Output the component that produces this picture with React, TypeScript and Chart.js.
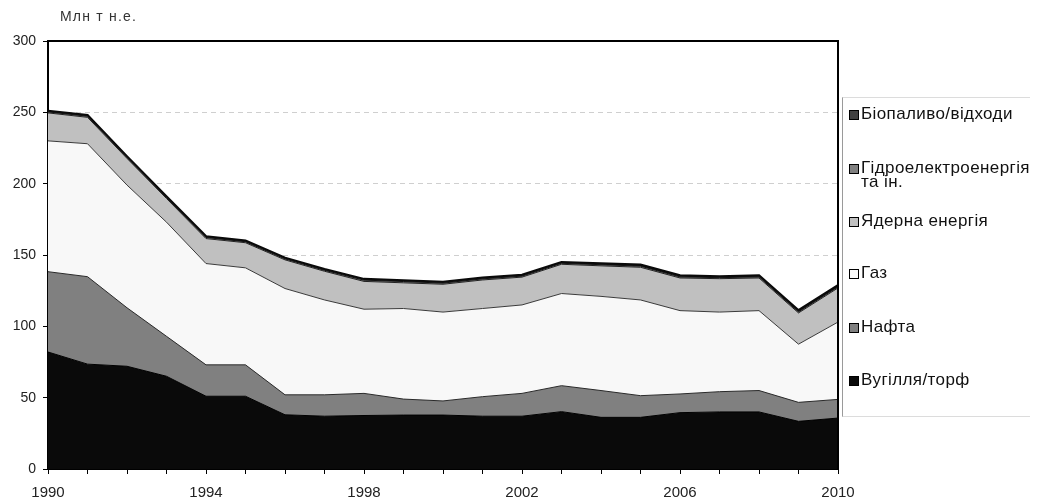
import React, { useEffect, useRef } from 'react';
import { Chart, registerables } from 'chart.js';

Chart.register(...registerables);

const years = ['1990', '1991', '1992', '1993', '1994', '1995', '1996', '1997', '1998', '1999', '2000', '2001', '2002', '2003', '2004', '2005', '2006', '2007', '2008', '2009', '2010'];
const shownYears = ['1990', '1994', '1998', '2002', '2006', '2010'];

const coal = [82, 73.5, 72, 65, 51, 51, 38, 37, 37.5, 37.8, 37.8, 37, 37, 40.2, 36.2, 36.2, 39.5, 40, 40, 33.4, 35.7];
const oil = [56.3, 61.3, 41, 28, 22, 22, 14, 15, 15.5, 11.2, 9.9, 13.7, 16, 18.2, 18.8, 15.2, 13.1, 14.2, 15, 13.3, 13.1];
const gas = [91.7, 93.2, 86, 80, 71, 68, 74.5, 66.5, 59, 63.5, 62.3, 61.8, 62, 64.6, 66, 67.1, 58.4, 55.8, 56, 40.8, 54.2];
const nuclear = [19.6, 18.5, 18.7, 16.6, 17.5, 17.6, 20.1, 20.1, 19.5, 18.0, 19.5, 20.0, 19.5, 20.5, 21.4, 22.9, 22.9, 23.4, 22.9, 21.9, 23.9];
const hydro = [0.7, 0.8, 0.6, 0.7, 0.8, 0.7, 0.7, 0.7, 0.9, 0.9, 0.8, 0.8, 0.7, 0.7, 0.8, 0.8, 0.8, 0.7, 0.8, 0.8, 0.8];
const bio = [0.7, 0.7, 0.7, 0.7, 0.7, 0.7, 0.7, 0.7, 0.7, 0.8, 0.8, 0.8, 0.8, 0.8, 0.9, 0.9, 0.9, 0.9, 1.0, 1.0, 1.0];

const yTickValues = [0, 50, 100, 150, 200, 250, 300];

const seriesNames = ['Вугілля/торф', 'Нафта', 'Газ', 'Ядерна енергія', 'Гідроелектроенергія та ін.', 'Біопаливо/відходи'];
const fills = ['#0a0a0a', '#808080', '#f8f8f8', '#c0c0c0', '#808080', '#404040'];
const borders = ['#000000', '#2a2a2a', '#3a3a3a', '#222222', '#111111', '#0a0a0a'];
const borderWidths = [1, 1, 1, 1, 1, 2.5];

const legendItems = [
  { name: 'Біопаливо/відходи', color: '#404040', lines: ['Біопаливо/відходи'], y: 114 },
  { name: 'Гідроелектроенергія та ін.', color: '#808080', lines: ['Гідроелектроенергія', 'та ін.'], y: 168 },
  { name: 'Ядерна енергія', color: '#c0c0c0', lines: ['Ядерна енергія'], y: 221 },
  { name: 'Газ', color: '#fafafa', lines: ['Газ'], y: 273 },
  { name: 'Нафта', color: '#808080', lines: ['Нафта'], y: 327 },
  { name: 'Вугілля/торф', color: '#0a0a0a', lines: ['Вугілля/торф'], y: 380 },
];

const FONT = "'Liberation Sans', Arial, sans-serif";

const frame = {
  id: 'frame',
  afterDatasetsDraw(chart: any) {
    const { ctx, chartArea } = chart;
    ctx.save();
    ctx.strokeStyle = '#000';
    ctx.lineWidth = 2;
    ctx.beginPath();
    ctx.moveTo(chartArea.left, chartArea.top);
    ctx.lineTo(chartArea.right, chartArea.top);
    ctx.lineTo(chartArea.right, chartArea.bottom);
    ctx.stroke();
    ctx.restore();
  },
};

export default function App() {
  const ref = useRef<HTMLCanvasElement | null>(null);

  useEffect(() => {
    document.body.style.margin = '0';
    const all = [coal, oil, gas, nuclear, hydro, bio];
    const chart = new Chart(ref.current as HTMLCanvasElement, {
      type: 'line',
      data: {
        labels: years,
        datasets: all.map((d, i) => ({
          label: seriesNames[i],
          data: d,
          backgroundColor: fills[i],
          borderColor: borders[i],
          borderWidth: borderWidths[i],
          fill: i === 0 ? 'origin' : '-1',
          pointRadius: 0,
          tension: 0,
        })),
      },
      options: {
        responsive: false,
        animation: false,
        devicePixelRatio: 1,
        layout: { padding: { top: 41, right: 200, left: 0, bottom: 0 } },
        plugins: { legend: { display: false }, tooltip: { enabled: false } },
        scales: {
          x: {
            offset: false,
            grid: { drawOnChartArea: false, drawTicks: true, tickLength: 5, tickColor: '#000' },
            border: { color: '#000', width: 2 },
            ticks: {
              autoSkip: false,
              maxRotation: 0,
              padding: 10,
              color: '#222',
              font: { family: FONT, size: 15 },
              callback: (v: any, i: number) => (shownYears.includes(years[i]) ? years[i] : ''),
            },
            afterFit: (s: any) => { s.height = 28; },
          },
          y: {
            stacked: true,
            min: 0,
            max: 300,
            afterBuildTicks: (s: any) => { s.ticks = yTickValues.map((v) => ({ value: v })); },
            grid: { color: '#cfcfcf', tickLength: 5, tickColor: '#000', lineWidth: 1 },
            border: { color: '#000', width: 2, dash: [5, 4] },
            ticks: { padding: 7, color: '#222', font: { family: FONT, size: 14 } },
            afterFit: (s: any) => { s.width = 48; },
          },
        },
      },
      plugins: [frame],
    });
    return () => chart.destroy();
  }, []);

  return (
    <div style={{ position: 'relative', width: 1038, height: 497, overflow: 'hidden', background: '#fff', fontFamily: FONT }}>
      <canvas ref={ref} width={1038} height={497} style={{ position: 'absolute', left: 0, top: 0, width: 1038, height: 497 }} />
      <div style={{ position: 'absolute', left: 60, top: 8, fontSize: 14, lineHeight: '16px', letterSpacing: 1.2, color: '#333' }}>Млн т н.е.</div>
      <div style={{ position: 'absolute', left: 842, top: 97, width: 188, height: 320, borderLeft: '1px solid #9a9a9a', borderTop: '1px solid #dcdcdc', borderBottom: '1px solid #dcdcdc', boxSizing: 'border-box' }} />
      {legendItems.map((it) => (
        <React.Fragment key={it.name}>
          <span style={{ position: 'absolute', left: 849, top: it.y - 4, width: 8, height: 8, border: '1px solid #000', background: it.color }} />
          {it.lines.map((l, k) => (
            <div key={k} style={{ position: 'absolute', left: 861, top: it.y - 8 + k * 14, height: 16, fontSize: 17, lineHeight: '16px', letterSpacing: 0.4, color: '#111', whiteSpace: 'nowrap' }}>{l}</div>
          ))}
        </React.Fragment>
      ))}
    </div>
  );
}
